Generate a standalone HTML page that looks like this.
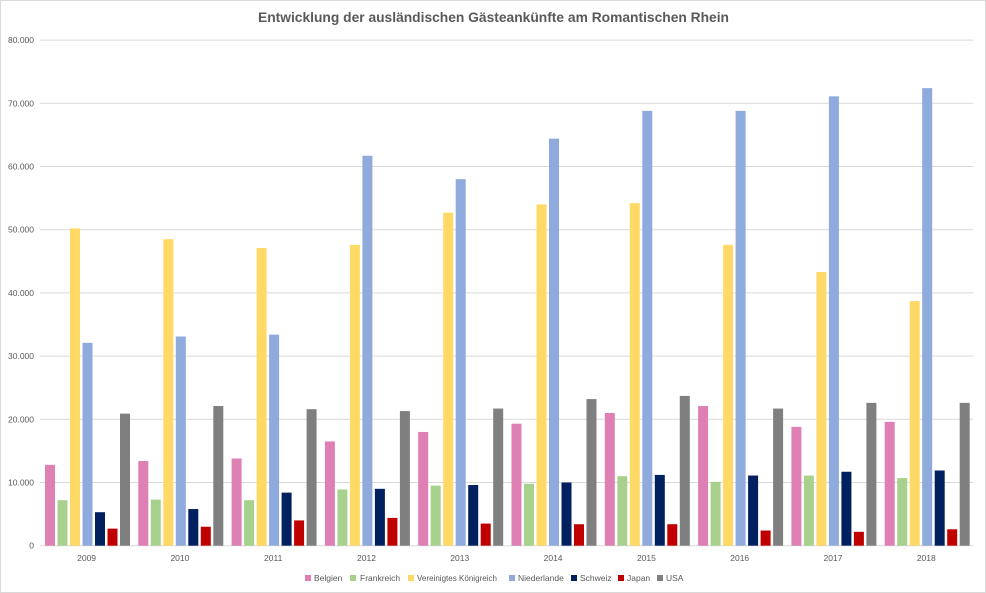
<!DOCTYPE html>
<html><head><meta charset="utf-8"><style>
html,body{margin:0;padding:0;background:#fff}
svg{display:block;font-family:"Liberation Sans",Calibri,sans-serif}
</style></head><body>
<svg width="986" height="593" viewBox="0 0 986 593" xmlns="http://www.w3.org/2000/svg">
<rect x="0.5" y="0.5" width="985" height="592" fill="#fff" stroke="#d9d9d9"/>
<text x="258" y="22" textLength="471" lengthAdjust="spacingAndGlyphs" font-size="14" font-weight="bold" fill="#595959">Entwicklung der ausländischen Gästeankünfte am Romantischen Rhein</text>
<g id="grid" stroke="#d9d9d9" stroke-width="1"></g>
<g id="ylab" font-size="8.5" fill="#595959" text-anchor="end"></g>
<g id="bars"></g>
<g id="xlab" font-size="8.5" fill="#595959" text-anchor="middle"></g>
<g font-size="8.5" fill="#595959">
<rect x="305" y="575" width="6" height="6" fill="#de80b4"/><text x="314" y="581">Belgien</text>
<rect x="350" y="575" width="6" height="6" fill="#a9d18e"/><text x="360" y="581">Frankreich</text>
<rect x="408" y="575" width="6" height="6" fill="#ffd966"/><text x="417" y="581" textLength="80" lengthAdjust="spacingAndGlyphs">Vereinigtes Königreich</text>
<rect x="509" y="575" width="6" height="6" fill="#8faadc"/><text x="518" y="581">Niederlande</text>
<rect x="571" y="575" width="6" height="6" fill="#002060"/><text x="580" y="581">Schweiz</text>
<rect x="618" y="575" width="6" height="6" fill="#c00000"/><text x="627" y="581">Japan</text>
<rect x="657" y="575" width="6" height="6" fill="#7f7f7f"/><text x="666" y="581">USA</text>
</g>
<script>
var ns="http://www.w3.org/2000/svg";
function el(p,t,a,tx){var e=document.createElementNS(ns,t);for(var k in a)e.setAttribute(k,a[k]);if(tx)e.textContent=tx;document.getElementById(p).appendChild(e);}
var y0=545.7,s=63.2/10000;
for(var i=0;i<=8;i++){var y=y0-i*10000*s;el("grid","line",{x1:40,x2:973,y1:y,y2:y});el("ylab","text",{x:34,y:y+3},i==0?"0":(i*10)+".000");}
var d=[[12.8,7.2,50.2,32.1,5.3,2.7,20.9],[13.4,7.3,48.5,33.1,5.8,3.0,22.1],[13.8,7.2,47.1,33.4,8.4,4.0,21.6],[16.5,8.9,47.6,61.7,9.0,4.4,21.3],[18.0,9.5,52.7,58.0,9.6,3.5,21.7],[19.3,9.8,54.0,64.4,10.0,3.4,23.2],[21.0,11.0,54.2,68.8,11.2,3.4,23.7],[22.1,10.1,47.6,68.8,11.1,2.4,21.7],[18.8,11.1,43.3,71.1,11.7,2.2,22.6],[19.6,10.7,38.7,72.4,11.9,2.6,22.6]];
var c=["#de80b4","#a9d18e","#ffd966","#8faadc","#002060","#c00000","#7f7f7f"];
for(var g=0;g<10;g++){var gx=40+g*93.3;for(var j=0;j<7;j++){var h=d[g][j]*1000*s;el("bars","rect",{x:gx+5+j*12.5,y:y0-h,width:10,height:h,fill:c[j]});}
el("xlab","text",{x:gx+46.6,y:561},String(2009+g));}
</script>
</svg>
</body></html>
